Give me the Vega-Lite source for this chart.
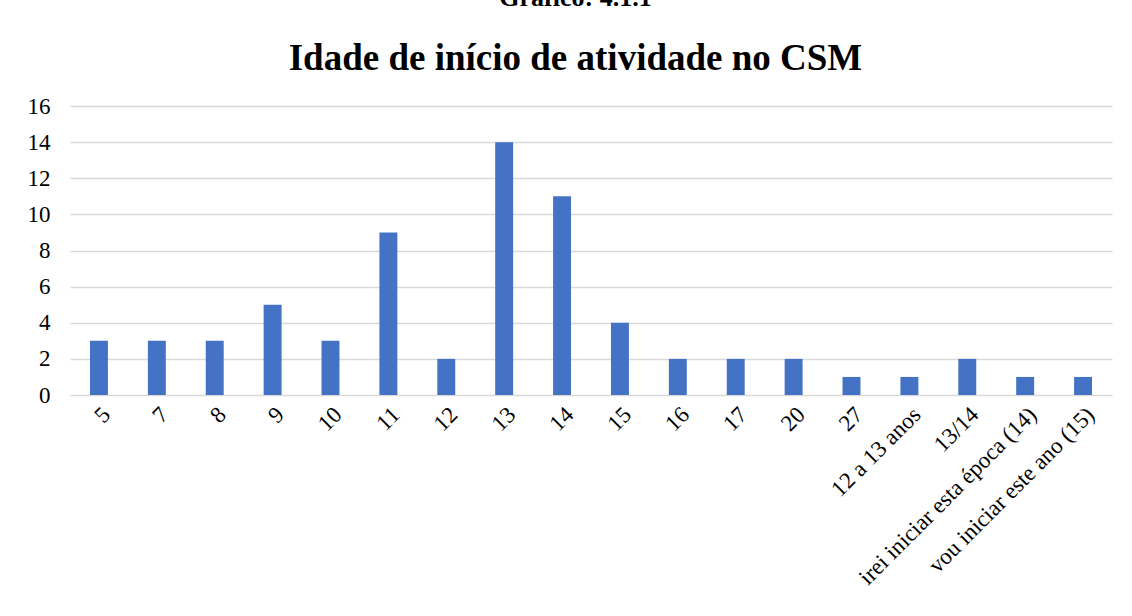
{
  "$schema": "https://vega.github.io/schema/vega-lite/v6.json",
  "width": 1042,
  "height": 289,
  "padding": {"left": 27, "top": -15, "right": 19, "bottom": 5},
  "background": "white",
  "title": {
    "text": "Gráfico: 4.1.1",
    "subtitle": "Idade de início de atividade no CSM",
    "font": "Liberation Serif",
    "fontSize": 26,
    "fontWeight": "bold",
    "color": "black",
    "subtitleFont": "Liberation Serif",
    "subtitleFontSize": 37,
    "subtitleFontWeight": "bold",
    "subtitleColor": "black",
    "subtitlePadding": 30,
    "anchor": "middle",
    "frame": "bounds",
    "dx": 6,
    "offset": 18
  },
  "data": {
    "values": [
      {"idade": "5", "n": 3},
      {"idade": "7", "n": 3},
      {"idade": "8", "n": 3},
      {"idade": "9", "n": 5},
      {"idade": "10", "n": 3},
      {"idade": "11", "n": 9},
      {"idade": "12", "n": 2},
      {"idade": "13", "n": 14},
      {"idade": "14", "n": 11},
      {"idade": "15", "n": 4},
      {"idade": "16", "n": 2},
      {"idade": "17", "n": 2},
      {"idade": "20", "n": 2},
      {"idade": "27", "n": 1},
      {"idade": "12 a 13 anos", "n": 1},
      {"idade": "13/14", "n": 2},
      {"idade": "irei iniciar esta época (14)", "n": 1},
      {"idade": "vou iniciar este ano (15)", "n": 1}
    ]
  },
  "mark": {"type": "bar", "color": "#4472C4"},
  "encoding": {
    "x": {
      "field": "idade",
      "type": "nominal",
      "sort": null,
      "title": null,
      "scale": {"paddingInner": 0.69, "paddingOuter": 0.345},
      "axis": {
        "labelAngle": -45,
        "labelFont": "Liberation Serif",
        "labelFontSize": 23,
        "labelColor": "#000000",
        "labelPadding": 8,
        "ticks": false,
        "domain": false,
        "grid": false,
        "labelLimit": 400
      }
    },
    "y": {
      "field": "n",
      "type": "quantitative",
      "title": null,
      "scale": {"domain": [0, 16]},
      "axis": {
        "values": [0, 2, 4, 6, 8, 10, 12, 14, 16],
        "labelFont": "Liberation Serif",
        "labelFontSize": 23,
        "labelColor": "#000000",
        "labelPadding": 20,
        "ticks": false,
        "domain": false,
        "grid": true,
        "gridColor": "#d9d9d9",
        "gridWidth": 1.3
      }
    }
  },
  "config": {"view": {"stroke": null}}
}
